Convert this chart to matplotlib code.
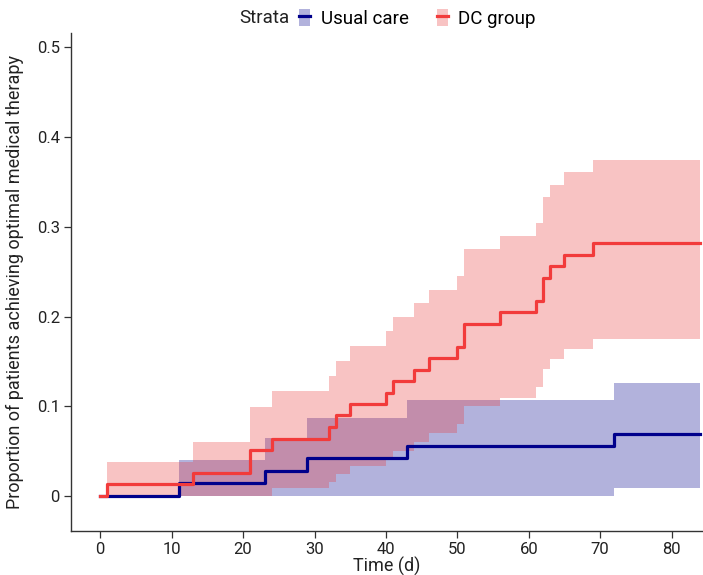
import matplotlib
matplotlib.use("Agg")
import matplotlib.pyplot as plt
from matplotlib.patches import Patch
from matplotlib.lines import Line2D
from matplotlib.ticker import FuncFormatter

plt.rcParams["font.family"] = ["Roboto", "DejaVu Sans"]

# Usual care: step times (d), cumulative proportion, 95% CI
usual_time = [0, 11, 23, 29, 43, 72, 84]
usual_est = [0, 0.014, 0.028, 0.042, 0.056, 0.069, 0.069]
usual_upper = [0, 0.040, 0.065, 0.0865, 0.107, 0.126, 0.126]
usual_lower = [0, 0, 0, 0, 0, 0.009, 0.009]

# DC group
dc_time = [0, 1, 13, 21, 24, 32, 33, 35, 40, 41, 44, 46, 50, 51, 56, 61, 62, 63, 65, 69, 84]
dc_est = [0, 0.013, 0.026, 0.051, 0.064, 0.077, 0.090, 0.103, 0.115, 0.128, 0.141,
          0.154, 0.166, 0.192, 0.205, 0.217, 0.243, 0.256, 0.269, 0.282, 0.282]
dc_upper = [0, 0.0375, 0.060, 0.099, 0.117, 0.134, 0.151, 0.167, 0.184, 0.199, 0.215,
            0.230, 0.245, 0.275, 0.290, 0.304, 0.333, 0.347, 0.361, 0.375, 0.375]
dc_lower = [0, 0, 0, 0, 0.009, 0.016, 0.024, 0.033, 0.041, 0.050, 0.060,
            0.070, 0.080, 0.100, 0.109, 0.121, 0.142, 0.153, 0.164, 0.175, 0.175]

x_ticks = [0, 10, 20, 30, 40, 50, 60, 70, 80]
y_ticks = [0, 0.1, 0.2, 0.3, 0.4, 0.5]

blue = "#00008B"
red = "#E83A3A"
line_red = "#F23B3B"

fig = plt.figure(figsize=(7.03, 5.75), dpi=100)
ax = fig.add_axes([0.101, 0.0765, 0.899, 0.866])

# confidence bands
ax.fill_between(usual_time, usual_lower, usual_upper, step="post",
                color=blue, alpha=0.3, linewidth=0)
ax.fill_between(dc_time, dc_lower, dc_upper, step="post",
                color=red, alpha=0.3, linewidth=0)

# step curves
ax.step(usual_time, usual_est, where="post", color=blue, linewidth=2.3)
ax.step(dc_time, dc_est, where="post", color=line_red, linewidth=2.3)

ax.set_xlim(-4.1, 84.4)
ax.set_ylim(-0.039, 0.516)
ax.set_xticks(x_ticks)
ax.set_yticks(y_ticks)
ax.yaxis.set_major_formatter(FuncFormatter(lambda v, p: f"{v:g}"))

for side in ["top", "right"]:
    ax.spines[side].set_visible(False)
for side in ["left", "bottom"]:
    ax.spines[side].set_color("#333333")
    ax.spines[side].set_linewidth(1.0)
ax.tick_params(axis="both", labelsize=12, colors="#333333", length=5, width=0.9,
               labelcolor="#222222", pad=3)

ax.set_xlabel("Time (d)", fontsize=13, color="#222222", va="center")
ax.xaxis.set_label_coords(0.5, -0.071)
ax.set_ylabel("Proportion of patients achieving optimal medical therapy",
              fontsize=13, color="#222222", va="center")
ax.yaxis.set_label_coords(-0.089, 0.5)

# legend along the top
handles = [
    (Patch(facecolor=blue, alpha=0.3, edgecolor="none"),
     Line2D([], [], color=blue, linewidth=2.3)),
    (Patch(facecolor=red, alpha=0.3, edgecolor="none"),
     Line2D([], [], color=line_red, linewidth=2.3)),
]
fig.legend(handles, ["Usual care", "DC group"], ncol=2, frameon=False,
           loc="center", bbox_to_anchor=(0.594, 0.968), fontsize=13.5,
           handlelength=0.6, handleheight=1.0, handletextpad=0.55, columnspacing=1.5)
fig.text(0.3755, 0.968, "Strata", ha="center", va="center", fontsize=13.5, color="#222222")

fig.savefig("out.png", dpi=100)
